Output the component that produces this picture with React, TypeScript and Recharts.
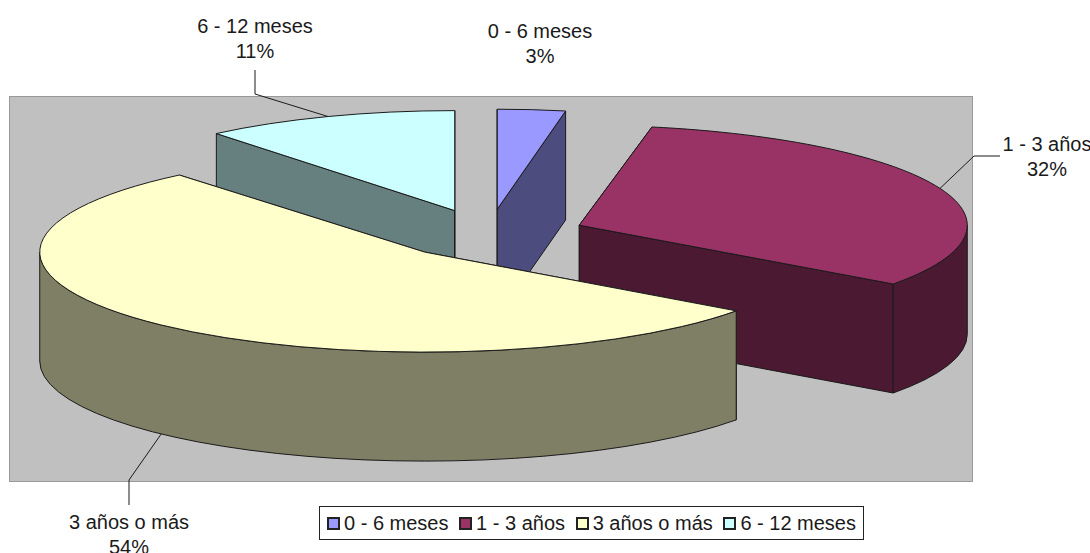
import { Legend, Pie, PieChart } from 'recharts';

const CATEGORIES = ['0 - 6 meses', '1 - 3 años', '3 años o más', '6 - 12 meses'];
const PERCENTS = [3, 32, 54, 11];
const TOP_COLORS = ['#9999FF', '#993366', '#FFFFCC', '#CCFFFF'];
const WALL_COLORS = ['#4C4C7F', '#4C1933', '#7F7F66', '#667F7F'];

// Paint back to front: the last category sits behind the others
const DRAW_ORDER = [3, 0, 1, 2];

const WIDTH = 1090;
const HEIGHT = 553;
const FONT = '"Liberation Sans", Arial, sans-serif';
const FONT_SIZE = 20;
const TEXT_COLOR = '#1a1a1a';
const LINE_COLOR = '#1a1a1a';

// Tilted pie: circle squashed into an ellipse, extruded downward, slices pulled out
const BASE_X_SCALE = 3.85;
const DEPTH = 109;
// Back slices read a little narrower because of the perspective
const X_SCALES = [3.65, 3.88, 3.85, 3.74];
const EXPLODES = [0.255, 0.255, 0.24, 0.255];

// Label text centre and leader elbow for each category
const LABEL_LAYOUT = [
  { x: 540, y: 33, elbow: [] as number[][] },
  { x: 1047, y: 146, elbow: [[974, 156], [1000, 156]] },
  { x: 129, y: 524, elbow: [[129, 480], [129, 505]] },
  { x: 255, y: 28, elbow: [[255, 94], [255, 70]] },
];

const chartData = DRAW_ORDER.map((i) => ({
  name: CATEGORIES[i],
  value: PERCENTS[i],
  top: TOP_COLORS[i],
  wall: WALL_COLORS[i],
  layout: LABEL_LAYOUT[i],
  xScale: X_SCALES[i],
  explode: EXPLODES[i],
}));

// Pie starts at 12 o'clock with the first category, so shift for the rotated paint order
const START_ANGLE = 90 + (360 * PERCENTS[3]) / 100;

const onEllipse = (cx: number, cy: number, r: number, deg: number, xScale: number) => {
  const rad = (deg * Math.PI) / 180;
  return { x: cx + r * xScale * Math.cos(rad), y: cy - r * Math.sin(rad) };
};

const explodedCentre = (cx: number, cy: number, r: number, midDeg: number, explode: number) =>
  onEllipse(cx, cy, r * explode, midDeg, BASE_X_SCALE);

function Slice3D(props: any) {
  const { cx, cy, outerRadius: r, startAngle, endAngle, payload } = props;
  const mid = (startAngle + endAngle) / 2;
  const c = explodedCentre(cx, cy, r, mid, payload.explode);
  const rx = r * payload.xScale;
  const p = (deg: number) => onEllipse(c.x, c.y, r, deg, payload.xScale);
  const a = p(startAngle);
  const b = p(endAngle);
  const large = startAngle - endAngle > 180 ? 1 : 0;

  const radialFace = (q: { x: number; y: number }) =>
    `M${c.x},${c.y} L${q.x},${q.y} L${q.x},${q.y + DEPTH} L${c.x},${c.y + DEPTH} Z`;

  // Only the front half of the rim can be seen (0 to -180 degrees here)
  const wallFrom = Math.min(startAngle, 0);
  const wallTo = Math.max(endAngle, -180);
  let rim = null;
  if (wallFrom > wallTo) {
    const w1 = p(wallFrom);
    const w2 = p(wallTo);
    rim =
      `M${w1.x},${w1.y} A${rx},${r} 0 0 1 ${w2.x},${w2.y} ` +
      `L${w2.x},${w2.y + DEPTH} A${rx},${r} 0 0 0 ${w1.x},${w1.y + DEPTH} Z`;
  }

  const strokeProps = { stroke: LINE_COLOR, strokeWidth: 1, strokeLinejoin: 'round' as const };
  return (
    <g>
      <path d={radialFace(a)} fill={payload.wall} {...strokeProps} />
      <path d={radialFace(b)} fill={payload.wall} {...strokeProps} />
      {rim && <path d={rim} fill={payload.wall} {...strokeProps} />}
      <path
        d={`M${c.x},${c.y} L${a.x},${a.y} A${rx},${r} 0 ${large} 1 ${b.x},${b.y} Z`}
        fill={payload.top}
        {...strokeProps}
      />
    </g>
  );
}

function SliceLabel(props: any) {
  const { cx, cy, outerRadius: r, midAngle, index } = props;
  const entry = chartData[index];
  const { x, y, elbow } = entry.layout;
  const c = explodedCentre(cx, cy, r, midAngle, entry.explode);
  const rim = onEllipse(c.x, c.y, r, midAngle, entry.xScale);
  // Leader starts on the rim; front slices hang it from the lower edge of the wall
  const startY = Math.sin((midAngle * Math.PI) / 180) < 0 ? rim.y + DEPTH : rim.y;
  const points = [[rim.x, startY], ...elbow].map((pt) => pt.join(',')).join(' ');
  const textProps = {
    x,
    textAnchor: 'middle' as const,
    dominantBaseline: 'middle' as const,
    fontFamily: FONT,
    fontSize: FONT_SIZE,
    fill: TEXT_COLOR,
  };
  return (
    <g>
      {elbow.length > 0 && <polyline points={points} fill="none" stroke={LINE_COLOR} strokeWidth={1} />}
      <text y={y} {...textProps}>
        {entry.name}
      </text>
      <text y={y + 25} {...textProps}>
        {entry.value}%
      </text>
    </g>
  );
}

function LegendBox() {
  return (
    <div
      style={{
        display: 'flex',
        alignItems: 'center',
        justifyContent: 'space-between',
        height: 34,
        padding: '0 7px',
        boxSizing: 'border-box',
        width: 545,
        background: '#fff',
        border: '1px solid #222',
        fontFamily: FONT,
        fontSize: FONT_SIZE,
        color: TEXT_COLOR,
        whiteSpace: 'nowrap',
      }}
    >
      {CATEGORIES.map((name, i) => (
        <span key={name} style={{ display: 'flex', alignItems: 'center', gap: 4 }}>
          <span
            style={{
              width: 9,
              height: 9,
              background: TOP_COLORS[i],
              border: '2px solid #222',
              display: 'inline-block',
            }}
          />
          {name}
        </span>
      ))}
    </div>
  );
}

export default function App() {
  return (
    <div style={{ position: 'absolute', left: 0, top: 0, width: WIDTH, height: HEIGHT, background: '#fff', overflow: 'hidden' }}>
      {/* Plot area backdrop */}
      <div
        style={{
          position: 'absolute',
          left: 9,
          top: 96,
          width: 962,
          height: 384,
          background: '#C0C0C0',
          border: '1px solid #999',
        }}
      />
      <PieChart width={WIDTH} height={HEIGHT} margin={{ top: 0, right: 0, bottom: 0, left: 0 }} style={{ position: 'absolute', left: 0, top: 0 }}>
        <Pie
          data={chartData}
          dataKey="value"
          nameKey="name"
          cx={488}
          cy={234.6}
          innerRadius={0}
          outerRadius={100}
          startAngle={START_ANGLE}
          endAngle={START_ANGLE - 360}
          stroke="none"
          shape={Slice3D}
          label={SliceLabel}
          labelLine={false}
          isAnimationActive={false}
        />
        <Legend
          content={LegendBox}
          wrapperStyle={{ position: 'absolute', left: 319, top: 506, width: 545, bottom: 'auto' }}
        />
      </PieChart>
    </div>
  );
}
